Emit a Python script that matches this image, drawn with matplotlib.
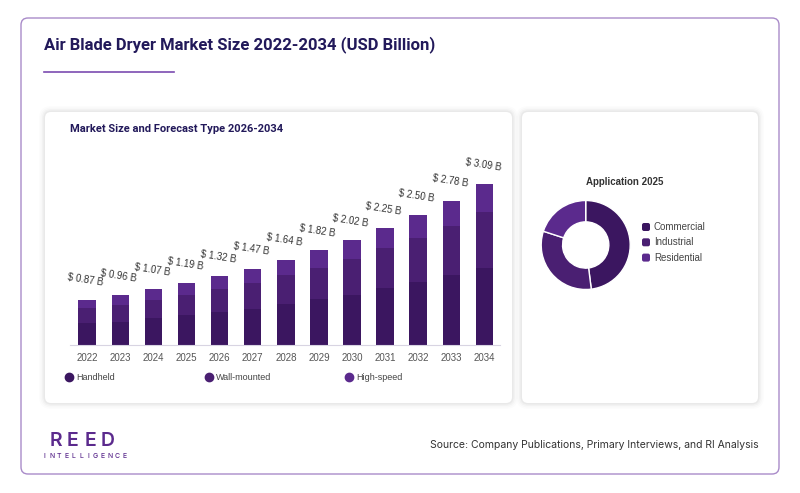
import matplotlib
matplotlib.use("Agg")
import matplotlib.pyplot as plt
from matplotlib.patches import FancyBboxPatch

# data
years = ["2022", "2023", "2024", "2025", "2026", "2027", "2028",
         "2029", "2030", "2031", "2032", "2033", "2034"]
handheld = [0.42, 0.45, 0.51, 0.57, 0.63, 0.70, 0.79, 0.88, 0.97, 1.09, 1.21, 1.34, 1.49]
wall_mounted = [0.29, 0.32, 0.36, 0.40, 0.45, 0.50, 0.56, 0.61, 0.69, 0.77, 0.85, 0.95, 1.06]
high_speed = [0.16, 0.19, 0.20, 0.22, 0.24, 0.27, 0.29, 0.33, 0.36, 0.39, 0.44, 0.49, 0.54]
totals = [0.87, 0.96, 1.07, 1.19, 1.32, 1.47, 1.64, 1.82, 2.02, 2.25, 2.50, 2.78, 3.09]
type_names = ["Handheld", "Wall-mounted", "High-speed"]

app_names = ["Commercial", "Industrial", "Residential"]
app_share = [48, 32, 20]

type_colors = ["#3b1660", "#4a1f72", "#5b2a8d"]
app_colors = ["#3b1660", "#4a1f72", "#5b2a8d"]

W, H = 800, 493
fig = plt.figure(figsize=(W / 100, H / 100), dpi=100)
fig.patch.set_facecolor("white")


def fx(x):
    return x / W


def fy(y):
    return 1 - y / H


def card(x0, y0, x1, y1, edge="none", shadow=True, r=6, z=-10):
    if shadow:
        for i, a in enumerate([0.035, 0.025, 0.015, 0.01]):
            g = 1.5 * (i + 1)
            p = FancyBboxPatch((fx(x0 - g), fy(y1 + g)), fx(x1 - x0 + 2 * g), (y1 - y0 + 2 * g) / H,
                               boxstyle="round,pad=0,rounding_size=%f" % fx(r + g),
                               transform=fig.transFigure, fc="#000000", ec="none", alpha=a,
                               mutation_aspect=W / H, zorder=z - 5)
            fig.patches.append(p)
    p = FancyBboxPatch((fx(x0), fy(y1)), fx(x1 - x0), (y1 - y0) / H,
                       boxstyle="round,pad=0,rounding_size=%f" % fx(r),
                       transform=fig.transFigure, fc="white", ec=edge, lw=1,
                       mutation_aspect=W / H, zorder=z)
    fig.patches.append(p)


# outer frame and panels
card(21, 18, 779, 474, edge="#a98bc9", shadow=False, r=7, z=-40)
card(45, 112, 512, 403)
card(522, 112, 758, 403)

fig.text(fx(44), fy(45), "Air Blade Dryer Market Size 2022-2034 (USD Billion)",
         family="Roboto", weight="bold", fontsize=12, color="#22195a", va="center")
fig.add_artist(plt.Line2D([fx(44), fx(174)], [fy(72), fy(72)], color="#7b4bb0", lw=1.2))
fig.text(fx(70), fy(129), "Market Size and Forecast Type 2026-2034",
         family="Roboto", weight="bold", fontsize=8, color="#22195a", va="center")

# stacked bars
ax = fig.add_axes([fx(70), fy(345), fx(430), 185 / H])
x = list(range(len(years)))
bottom = [0.0] * len(years)
for vals, col in zip([handheld, wall_mounted, high_speed], type_colors):
    ax.bar(x, vals, bottom=bottom, width=0.53, color=col, linewidth=0)
    bottom = [b + v for b, v in zip(bottom, vals)]
for xi, t in zip(x, totals):
    ax.annotate("$ %.2f B" % t, (xi, t), xytext=(-1, 14), textcoords="offset points",
                ha="center", va="center", rotation=-9, fontsize=7,
                family="Liberation Sans", color="#333333")
ax.set_xlim(-0.52, 12.47)
ax.set_ylim(0, 3.56)
ax.set_xticks(x)
ax.set_xticklabels(years, fontsize=7, color="#555555", family="Liberation Sans")
ax.tick_params(axis="x", length=0, pad=6)
ax.set_yticks([])
for s in ["top", "right", "left"]:
    ax.spines[s].set_visible(False)
ax.spines["bottom"].set_color("#d8d4e2")
ax.patch.set_alpha(0)

# legend for bars
for lx, name, col in zip([69, 209, 349], type_names, type_colors):
    fig.add_artist(plt.Line2D([fx(lx)], [fy(377)], marker="o", markersize=6,
                              color=col, linestyle="none"))
    fig.text(fx(lx + 7), fy(377), name, fontsize=6.5, color="#444444",
             family="Liberation Sans", va="center")

# donut
fig.text(fx(625), fy(182), "Application 2025", fontsize=7, weight="bold",
         color="#333333", ha="center", va="center", family="Liberation Sans")
pax = fig.add_axes([fx(585.7 - 44.5), fy(245 + 44.5), fx(89), 89 / H])
pax.pie(app_share, colors=app_colors, startangle=90, counterclock=False,
        wedgeprops=dict(width=0.48, edgecolor="white", linewidth=1))
pax.set_xlim(-1, 1)
pax.set_ylim(-1, 1)
pax.set_aspect("equal")
for i, (name, col) in enumerate(zip(app_names, app_colors)):
    yy = 227 + i * 15.3
    fig.patches.append(FancyBboxPatch((fx(642), fy(yy + 4)), fx(8), 8 / H,
                                      boxstyle="round,pad=0,rounding_size=%f" % fx(2),
                                      transform=fig.transFigure, fc=col, ec="none",
                                      mutation_aspect=W / H))
    fig.text(fx(654), fy(yy), name, fontsize=7, color="#444444",
             family="Liberation Sans", va="center")

# footer
for lx, ch in zip([55.5, 73, 90.5, 108], "REED"):
    fig.text(fx(lx), fy(441), ch, fontsize=14, color="#5b2a8d", ha="center", va="center",
             family="Inter", weight="semibold")
for i, ch in enumerate("INTELLIGENCE"):
    fig.text(fx(44.5 + i * 7.3), fy(456), ch, fontsize=5, color="#5b2a8d", ha="center",
             va="center", family="Inter", weight="medium")
fig.text(fx(759), fy(445), "Source: Company Publications, Primary Interviews, and RI Analysis",
         fontsize=7.5, color="#333333", ha="right", va="center", family="Inter")

fig.savefig("out.png", dpi=100)
